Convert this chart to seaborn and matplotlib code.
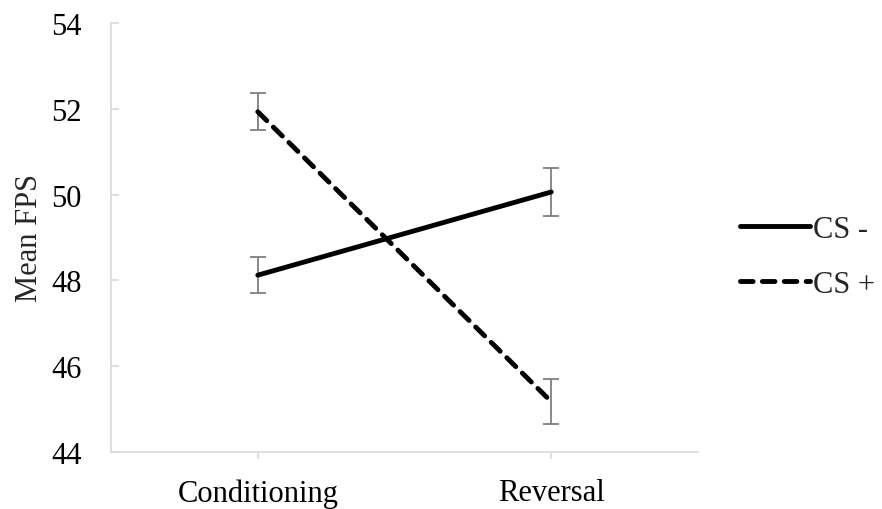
import matplotlib
matplotlib.use("Agg")
import matplotlib.pyplot as plt
import seaborn as sns
import pandas as pd

phases = ["Conditioning", "Reversal"]
series = ["CS -", "CS +"]
cs_minus = [48.12, 50.06]
cs_plus = [51.93, 45.17]
cs_minus_err = [0.42, 0.57]
cs_plus_err = [0.43, 0.53]
yticks = [44, 46, 48, 50, 52, 54]

sns.set_style("white")
plt.rcParams['font.family'] = ['Liberation Serif', 'DejaVu Serif']

rows = []
for s, vals in zip(series, [cs_minus, cs_plus]):
    for i, (p, v) in enumerate(zip(phases, vals)):
        rows.append({"pos": i, "Phase": p, "Series": s, "FPS": v})
df = pd.DataFrame(rows)

fig = plt.figure(figsize=(8.82, 5.10), dpi=100)
ax = fig.add_axes([0.1259, 0.112, 0.6655, 0.841])

for vals, errs in zip([cs_minus, cs_plus], [cs_minus_err, cs_plus_err]):
    ax.errorbar(range(len(phases)), vals, yerr=errs, fmt="none",
                ecolor="#7f7f7f", elinewidth=1.3, capsize=6, capthick=1.3, zorder=2)

sns.lineplot(data=df, x="pos", y="FPS", hue="Series", style="Series",
             palette={"CS -": "black", "CS +": "black"},
             dashes={"CS -": "", "CS +": (2.6, 1.9)},
             linewidth=3.5, ax=ax, zorder=3, legend=True)

for ln in ax.get_lines():
    ln.set_dash_capstyle("round")
    ln.set_solid_capstyle("round")

ax.set_xlim(-0.5, 1.5)
ax.set_ylim(44, 54)
ax.set_yticks(yticks)
ax.set_yticklabels([str(t) for t in yticks], fontsize=22)
ax.set_xticks(range(len(phases)))
ax.set_xticklabels(phases, fontsize=22)
ax.set_xlabel("")
ax.set_ylabel("Mean FPS", fontsize=22, labelpad=5)

for side in ["top", "right"]:
    ax.spines[side].set_visible(False)
for side in ["left", "bottom"]:
    ax.spines[side].set_color("#d9d9d9")
    ax.spines[side].set_linewidth(1.2)
ax.tick_params(axis="y", which="both", length=6, width=1.2, color="#d9d9d9",
               direction="in", left=True, pad=21, labelcolor="black")
ax.tick_params(axis="x", which="both", length=5, width=1.2, color="#d9d9d9",
               direction="out", bottom=True, pad=14, labelcolor="black")

handles, labels = ax.get_legend_handles_labels()
for h in handles:
    h.set_dash_capstyle("round")
leg = ax.legend(handles, labels, loc="center left", bbox_to_anchor=(0.808, 0.494),
                bbox_transform=fig.transFigure, frameon=False, fontsize=22,
                handlelength=2.3, handletextpad=0.1, labelspacing=0.85)

fig.savefig("out.png", dpi=100)
